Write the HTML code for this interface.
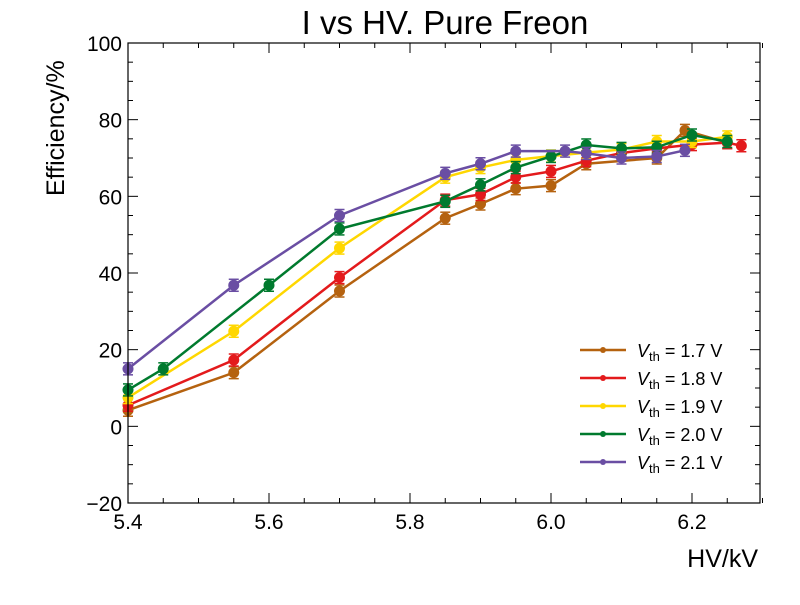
<!DOCTYPE html>
<html><head><meta charset="utf-8"><style>
body{margin:0;background:#fff;}
svg text{font-family:"Liberation Sans",sans-serif;}
</style></head><body>
<svg id="chart" width="800" height="600" xmlns="http://www.w3.org/2000/svg">
<rect width="800" height="600" fill="#fff"/>
<text x="445" y="34" font-size="33" text-anchor="middle">I vs HV. Pure Freon</text>
<text x="758" y="567" font-size="25" text-anchor="end">HV/kV</text>
<text transform="translate(64,196) rotate(-90)" font-size="25" text-anchor="start">Efficiency/%</text>
<g id="ticks"></g>
<g id="series"></g>
<rect x="128" y="43" width="632" height="460" fill="none" stroke="#000" stroke-width="1.2"/>
<g id="legend"></g>
</svg>
<script>
const seriesLabels=["1.7","1.8","1.9","2.0","2.1"];
const seriesColors=["#b5620f","#e31a1c","#ffd700","#007a2e","#6a4ea3"];
const x17=[5.4,5.55,5.7,5.85,5.9,5.95,6.0,6.05,6.15,6.19,6.25];
const y17=[4.2,14,35.3,54.3,58,62,62.8,68.5,70,77.2,74];
const x18=[5.4,5.55,5.7,5.85,5.9,5.95,6.0,6.05,6.1,6.15,6.2,6.25,6.27];
const y18=[5.5,17.3,38.8,59,60.5,65,66.5,69.3,71.3,72.5,73.5,74,73.2];
const x19=[5.4,5.55,5.7,5.85,5.9,5.95,6.0,6.05,6.1,6.15,6.2,6.25];
const y19=[7.5,24.8,46.5,65,67.5,69.5,70.5,71.4,72.2,74.3,74.3,75.5];
const x20=[5.4,5.45,5.6,5.7,5.85,5.9,5.95,6.0,6.05,6.1,6.15,6.2,6.25];
const y20=[9.5,15,36.8,51.5,58.7,63,67.5,70.4,73.4,72.5,72.8,76,74.3];
const x21=[5.4,5.55,5.7,5.85,5.9,5.95,6.02,6.05,6.1,6.15,6.19];
const y21=[15,36.8,55,66,68.5,71.8,71.8,71.2,70,70.4,72];
const xTicks=["5.4","5.6","5.8","6.0","6.2"];
const yTicks=["−20","0","20","40","60","80","100"];
const xs=[x17,x18,x19,x20,x21], ys=[y17,y18,y19,y20,y21];
const NS="http://www.w3.org/2000/svg";
const X=v=>128+(v-5.4)*705, Y=v=>503-(v+20)*(460/120);
function mk(t,a,p){const e=document.createElementNS(NS,t);for(const k in a)e.setAttribute(k,a[k]);p.appendChild(e);return e;}
const tk=document.getElementById('ticks');
for(let i=0;i<=18;i++){const v=5.4+i*0.05,x=X(v),L=i%4==0?10:5;
 mk('line',{x1:x,x2:x,y1:503,y2:503-L,stroke:'#000'},tk);mk('line',{x1:x,x2:x,y1:43,y2:43+L,stroke:'#000'},tk);}
xTicks.forEach(s=>{const t=mk('text',{x:X(parseFloat(s)),y:529,'font-size':21,'text-anchor':'middle'},tk);t.textContent=s;

});
for(let v=-20;v<=100;v+=5){const y=Y(v),L=v%20==0?10:5;
 mk('line',{x1:128,x2:128+L,y1:y,y2:y,stroke:'#000'},tk);mk('line',{x1:760,x2:760-L,y1:y,y2:y,stroke:'#000'},tk);}
yTicks.forEach(s=>{const t=mk('text',{x:122,y:Y(parseFloat(s.replace('−','-')))+8,'font-size':21,'text-anchor':'end'},tk);t.textContent=s;

});
const sg=document.getElementById('series');
xs.forEach((xa,i)=>{const g=mk('g',{},sg);


const c=seriesColors[i];
mk('polyline',{points:xa.map((x,j)=>X(x)+','+Y(ys[i][j])).join(' '),fill:'none',stroke:c,'stroke-width':2.5},g);
xa.forEach((x,j)=>{const px=X(x),py=Y(ys[i][j]);
 mk('line',{x1:px,x2:px,y1:py-6,y2:py+6,stroke:c,'stroke-width':1.5},g);
 mk('line',{x1:px-5,x2:px+5,y1:py-6,y2:py-6,stroke:c,'stroke-width':1.5},g);
 mk('line',{x1:px-5,x2:px+5,y1:py+6,y2:py+6,stroke:c,'stroke-width':1.5},g);
 const p=mk('circle',{cx:px,cy:py,r:5.5,fill:c},g);
 
 });});
const lg=document.getElementById('legend');
seriesLabels.forEach((s,i)=>{const y=350+i*28,g=mk('g',{},lg);


mk('line',{x1:580,x2:626,y1:y,y2:y,stroke:seriesColors[i],'stroke-width':2.5},g);
mk('circle',{cx:603,cy:y,r:3,fill:seriesColors[i]},g);
const t=mk('text',{x:637,y:y+7,'font-size':18},g);
t.innerHTML='<tspan font-style="italic">V</tspan><tspan font-size="13" dy="4">th</tspan><tspan dy="-4"> =  '+s+' V</tspan>';});
</script>
</body></html>
